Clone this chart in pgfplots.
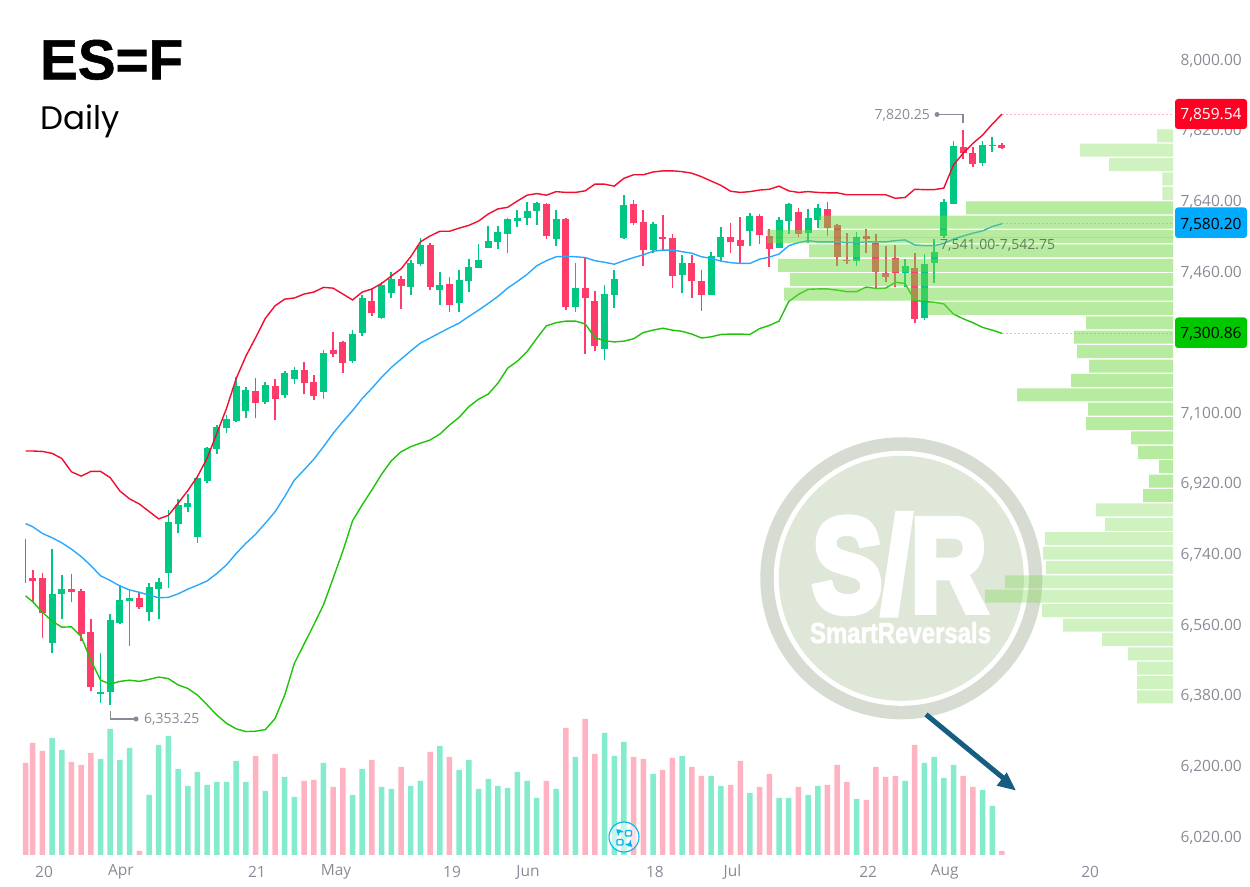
\documentclass[border=0pt]{standalone}
\usepackage{graphicx}
\usepackage{fontspec}
\usepackage{pgfplots}
\usepackage{pgfplotstable}
\pgfplotsset{compat=1.18}
\setmainfont{Open Sans}
\newfontfamily\titlefont{Poppins}
\newfontfamily\titleb[FakeBold=1]{Liberation Sans Bold}
\newfontfamily\wmfont[FakeBold=6]{Liberation Sans Bold}
\newfontfamily\wmsmall[FakeBold=2]{Liberation Sans Bold}
\definecolor{upc}{HTML}{00C781}
\definecolor{dnc}{HTML}{FF3B69}
\definecolor{upv}{HTML}{85EBCD}
\definecolor{dnv}{HTML}{FFB3C2}
\definecolor{bandr}{HTML}{F20D2E}
\definecolor{bandb}{HTML}{29A8FF}
\definecolor{bandg}{HTML}{1FC40A}
\definecolor{prof}{HTML}{6FD741}
\definecolor{ticktxt}{HTML}{8A8A96}
\definecolor{arrowc}{HTML}{155E82}
\definecolor{wmring}{HTML}{D6DCD2}
\definecolor{wmfill}{HTML}{DFE7D9}
\definecolor{tagr}{HTML}{FF0022}
\definecolor{tagb}{HTML}{00AAFF}
\definecolor{tagg}{HTML}{00C800}
\definecolor{poctxt}{HTML}{5F7F5A}
\definecolor{iconc}{HTML}{00B4F0}

% rising days: x open high low close
\pgfplotstableread{
x o h l c
2 6511.0 6751.3 6485.5 6636.7
3 6635.9 6684.3 6573.7 6649.4
7 6381.1 6485.5 6359.6 6386.9
8 6386.1 6585.7 6353.25 6570.4
9 6562.7 6658.8 6561.0 6620.6
10 6618.8 6648.6 6504.9 6627.2
12 6590.8 6663.9 6567.1 6653.7
13 6650.2 6677.4 6573.7 6667.2
14 6689.4 6850.7 6652.7 6819.4
15 6815.0 6878.0 6792.9 6863.5
16 6858.4 6891.5 6846.4 6867.8
17 6781.1 6935.6 6767.4 6931.5
18 6925.4 7012.0 6920.3 7008.0
19 7005.4 7067.3 6993.4 7062.2
20 7058.9 7092.1 7047.7 7081.9
21 7077.5 7189.7 7075.7 7166.7
22 7103.8 7163.4 7085.9 7155.8
24 7125.9 7176.9 7121.6 7168.5
26 7143.8 7204.2 7136.9 7199.1
27 7185.3 7214.4 7171.8 7208.3
30 7151.4 7257.7 7134.4 7250.1
33 7229.7 7308.7 7224.6 7299.2
34 7301.0 7397.9 7294.9 7391.0
36 7340.0 7432.5 7337.5 7424.1
37 7404.5 7458.0 7391.7 7438.6
39 7419.8 7487.8 7398.6 7480.2
40 7477.6 7543.9 7472.5 7526.8
42 7411.4 7458.0 7373.9 7424.1
44 7378.2 7462.3 7356.1 7436.8
45 7433.5 7490.4 7407.0 7470.7
46 7467.4 7528.6 7467.4 7487.8
47 7519.2 7574.5 7517.6 7536.2
48 7533.7 7574.5 7515.9 7558.4
49 7554.8 7594.1 7506.4 7591.5
50 7588.0 7615.2 7572.7 7594.1
51 7595.6 7635.6 7577.0 7612.7
52 7612.7 7635.6 7577.0 7633.1
54 7541.3 7615.2 7524.3 7591.5
56 7368.8 7480.9 7356.1 7416.5
59 7260.2 7423.3 7233.0 7401.2
60 7398.6 7463.1 7366.3 7439.4
61 7543.9 7653.5 7541.3 7628.0
64 7513.3 7585.4 7504.9 7578.8
67 7449.6 7500.6 7404.5 7480.9
70 7398.6 7509.0 7398.6 7498.0
71 7496.2 7572.7 7485.3 7545.7
74 7562.5 7608.4 7524.3 7600.7
77 7517.6 7598.2 7517.6 7589.8
78 7588.0 7633.8 7554.1 7631.3
80 7557.4 7617.8 7531.9 7594.8
81 7589.8 7630.5 7568.6 7620.3
85 7485.3 7559.2 7473.3 7546.4
90 7453.9 7490.4 7419.8 7471.8
92 7339.2 7503.1 7334.9 7477.6
93 7480.9 7542.1 7428.4 7507.4
94 7549.0 7642.5 7544.6 7635.6
95 7630.5 7790.3 7630.5 7778.3
98 7735.8 7791.1 7726.6 7780.9
99 7777.6 7802.0 7763.8 7780.1
}\upcandles

% falling days: x open high low close
\pgfplotstableread{
x o h l c
0 6676.7 6697.8 6617.0 6670.6
1 6678.2 6689.4 6525.3 6589.0
4 6649.4 6687.6 6617.0 6641.7
5 6644.3 6650.2 6517.7 6534.7
6 6539.0 6572.2 6389.4 6398.9
11 6625.7 6640.0 6598.4 6604.3
23 7154.0 7186.3 7085.9 7124.2
25 7166.0 7183.8 7080.8 7133.6
28 7207.5 7227.1 7147.1 7173.6
29 7176.2 7194.7 7131.8 7142.0
31 7258.5 7304.3 7241.4 7248.3
32 7279.6 7282.2 7200.6 7226.1
35 7383.3 7413.9 7345.9 7352.8
38 7438.6 7447.0 7363.7 7422.3
41 7526.0 7531.9 7410.6 7419.8
43 7425.9 7444.5 7356.1 7373.9
53 7631.3 7633.1 7541.3 7549.0
55 7593.1 7594.1 7360.4 7368.8
57 7416.5 7494.7 7249.0 7391.0
58 7383.3 7408.8 7255.9 7268.7
62 7629.8 7640.7 7577.0 7582.9
63 7584.7 7615.2 7472.5 7512.5
65 7546.4 7602.5 7513.3 7542.1
66 7544.6 7553.3 7416.5 7447.0
68 7480.2 7500.6 7391.0 7435.1
69 7434.3 7462.3 7358.6 7398.6
72 7546.4 7582.9 7505.7 7533.7
73 7539.5 7598.2 7479.4 7524.3
75 7600.7 7605.0 7529.4 7552.3
76 7549.0 7566.1 7469.2 7516.6
79 7610.9 7619.6 7547.2 7554.8
82 7618.6 7635.6 7549.0 7569.4
83 7576.2 7579.6 7473.3 7496.2
84 7487.8 7555.9 7477.6 7484.5
86 7549.0 7566.1 7504.9 7542.1
87 7531.9 7553.3 7415.7 7457.2
88 7453.9 7523.5 7432.5 7445.3
89 7492.9 7525.3 7419.8 7453.9
91 7467.4 7504.9 7326.5 7336.7
96 7775.0 7820.25 7745.2 7759.7
97 7759.7 7775.0 7725.6 7732.5
100 7781.6 7785.2 7771.5 7774.0
}\dncandles

% Bollinger bands: x upper middle lower
\pgfplotstableread{
x up mid low
-0.74 7001 6816 6632
0 7001 6808 6617
1 7000 6791 6590
2 6995 6780 6568
3 6982 6767 6552
4 6948 6751 6553
5 6937 6732 6528
6 6949 6709 6468
7 6949 6683 6417
8 6933 6671 6407
9 6899 6657 6414
10 6879 6647 6417
11 6866 6641 6414
12 6847 6634 6419
13 6828 6627 6425
14 6837 6628 6421
15 6868 6637 6405
16 6900 6649 6396
17 6936 6659 6379
18 6983 6670 6354
19 7046 6689 6328
20 7110 6711 6307
21 7186 6740 6293
22 7243 6766 6286
23 7290 6789 6287
24 7339 6817 6291
25 7371 6846 6319
26 7388 6885 6379
27 7391 6927 6460
28 7401 6953 6509
29 7406 6980 6558
30 7418 7012 6609
31 7416 7046 6677
32 7401 7076 6746
33 7386 7104 6823
34 7406 7135 6864
35 7414 7161 6902
36 7428 7189 6942
37 7447 7214 6976
38 7465 7235 6999
39 7496 7256 7012
40 7534 7276 7021
41 7549 7289 7029
42 7561 7302 7044
43 7561 7315 7067
44 7569 7327 7087
45 7576 7344 7114
46 7587 7360 7133
47 7605 7377 7146
48 7618 7395 7174
49 7622 7416 7212
50 7638 7433 7230
51 7653 7451 7254
52 7657 7473 7288
53 7653 7486 7320
54 7662 7496 7328
55 7660 7497 7332
56 7660 7496 7332
57 7664 7494 7325
58 7681 7486 7290
59 7681 7482 7282
60 7676 7477 7279
61 7696 7486 7281
62 7705 7494 7287
63 7705 7501 7303
64 7712 7510 7309
65 7715 7513 7314
66 7715 7513 7309
67 7713 7509 7306
68 7709 7505 7299
69 7700 7496 7289
70 7689 7492 7292
71 7678 7485 7298
72 7663 7481 7299
73 7660 7479 7299
74 7662 7479 7298
75 7666 7490 7313
76 7668 7495 7321
77 7676 7503 7332
78 7664 7524 7382
79 7660 7532 7400
80 7662 7537 7413
81 7660 7534 7414
82 7659 7534 7414
83 7659 7534 7411
84 7654 7532 7407
85 7654 7532 7407
86 7654 7534 7419
87 7654 7534 7415
88 7654 7534 7416
89 7645 7537 7431
90 7647 7539 7428
91 7668 7526 7385
92 7667 7524 7382
93 7667 7524 7380
94 7671 7530 7376
95 7730 7541 7350
96 7760 7549 7338
97 7785 7556 7328
98 7806 7562 7316
99 7834 7573 7309
100 7859.54 7580.20 7300.86
}\bands

% volume, rising days: x v
\pgfplotstableread{
x v
2 117
3 105
7 96
8 126
9 95
10 107
12 60
13 110
14 119
15 86
16 69
17 83
18 70
19 73
20 73
21 94
22 73
24 64
26 78
27 58
30 92
33 60
34 86
36 68
37 66
39 69
40 74
42 109
44 85
45 95
46 66
47 76
48 69
49 67
50 83
51 74
52 57
54 66
56 98
59 122
60 99
61 113
64 81
67 99
70 79
71 69
74 62
77 57
78 57
80 60
81 69
85 56
90 74
92 92
93 98
94 77
95 90
98 65
99 49
}\upvol

% volume, falling days: x v
\pgfplotstableread{
x v
-0.74 92
0 112
1 104
4 93
5 90
6 102
11 4
23 99
25 101
28 74
29 75
31 68
32 87
35 95
38 88
41 103
43 98
53 74
55 127
57 136
58 101
62 98
63 96
65 85
66 97
68 88
69 79
72 70
73 94
75 68
76 81
79 68
82 70
83 90
84 73
86 55
87 88
88 78
89 79
91 110
96 79
97 68
100 4
}\dnvol

% volume profile, outside the value area: v price
\pgfplotstableread{
v p
16 7804.3
93 7767.6
64 7731.0
10.7 7694.3
10.7 7657.6
77 6850.9
68 6814.2
128 6777.5
130 6740.9
127 6704.2
168 6667.5
188 6630.9
131 6594.2
110 6557.5
71 6520.9
45 6484.2
36 6447.5
36 6410.9
36 6374.2
}\proflight

% volume profile, value area: v price
\pgfplotstableread{
v p
207 7620.9
354 7584.3
406 7547.6
364 7510.9
395 7474.3
383 7437.6
389 7400.9
246 7364.3
87 7327.6
99 7290.9
96 7254.2
84 7217.6
102 7180.9
156 7144.2
85 7107.6
87 7070.9
42 7034.2
35 6997.6
14 6960.9
24 6924.2
30 6887.6
}\profdark

\newcommand{\lab}{\fontsize{15.5}{18}\selectfont}
\newcommand{\sm}{\fontsize{14}{16}\selectfont}

\begin{document}
\begin{tikzpicture}[x=1pt,y=1pt]
\useasboundingbox (0,0) rectangle (1250,886);

% ---------- price axis: candles and bands
\begin{axis}[
  at={(0,0)}, anchor=south west, scale only axis,
  width=1250pt, height=886pt,
  xmin=-3.3736, xmax=125.59, ymin=5892.5, ymax=8150.36,
  axis line style={draw=none}, major tick length=0pt, clip=true,
  xtick pos=bottom, ytick pos=right,
  xtick={1.17,9.11,23.14,31.29,43.26,51.1,64.2,72.2,86.2,94.1,109.1},
  xticklabels={20,Apr,21,May,19,Jun,18,Jul,22,Aug,20},
  ytick={8000,7820,7640,7460,7100,6920,6740,6560,6380,6200,6020},
  yticklabels={{8,000.00},{7,820.00},{7,640.00},{7,460.00},{7,100.00},{6,920.00},{6,740.00},{6,560.00},{6,380.00},{6,200.00},{6,020.00}},
  xticklabel style={anchor=center, yshift=14pt, font=\lab, text=ticktxt},
  yticklabel style={anchor=east, inner sep=0pt, xshift=-8pt, yshift=-1.5pt, font=\lab, text=ticktxt},
]
% the first candle, cut by the left edge of the plot
\addplot[dnc, line width=1.5pt, forget plot] coordinates {(-0.74,6776.8) (-0.74,6664.7)};
% wicks
\addplot[draw=none, mark=none, forget plot, error bars/.cd, y dir=both, y explicit, error mark=none,
  error bar style={line width=1.7pt, upc}]
  table[x=x, y=c, y error plus expr=\thisrow{h}-\thisrow{c}, y error minus expr=\thisrow{c}-\thisrow{l}] {\upcandles};
\addplot[draw=none, mark=none, forget plot, error bars/.cd, y dir=both, y explicit, error mark=none,
  error bar style={line width=1.7pt, dnc}]
  table[x=x, y=c, y error plus expr=\thisrow{h}-\thisrow{c}, y error minus expr=\thisrow{c}-\thisrow{l}] {\dncandles};
% bodies
\addplot[draw=none, mark=none, forget plot, error bars/.cd, y dir=minus, y explicit, error mark=none,
  error bar style={line width=7pt, upc}]
  table[x=x, y=c, y error minus expr=\thisrow{c}-\thisrow{o}] {\upcandles};
\addplot[draw=none, mark=none, forget plot, error bars/.cd, y dir=plus, y explicit, error mark=none,
  error bar style={line width=7pt, dnc}]
  table[x=x, y=c, y error plus expr=\thisrow{o}-\thisrow{c}] {\dncandles};
% bands
\addplot[bandr, line width=1.4pt, mark=none, forget plot] table[x=x, y=up] {\bands};
\addplot[bandb, line width=1.4pt, mark=none, forget plot] table[x=x, y=mid] {\bands};
\addplot[bandg, line width=1.4pt, mark=none, forget plot] table[x=x, y=low] {\bands};
% extensions to the price tags
\addplot[bandr, opacity=.3, line width=.8pt, dash pattern=on 2pt off 2pt, forget plot] coordinates {(100,7859.54) (117.6,7859.54)};
\addplot[bandb, opacity=.4, line width=.8pt, dash pattern=on 2pt off 2pt, forget plot] coordinates {(100,7580.20) (117.6,7580.20)};
\addplot[bandg, opacity=.4, line width=.8pt, dash pattern=on 2pt off 2pt, forget plot] coordinates {(100,7300.86) (117.6,7300.86)};
\end{axis}

% ---------- watermark
\begin{scope}[shift={(0,886)},y=-1pt]
  \fill[wmring] (901.3,578.3) circle (141);
  \fill[white] (901.3,578.3) circle (127.5);
  \fill[wmfill] (901.3,578.3) circle (122.5);
  \node[white, inner sep=0pt, anchor=base] at (899.5,611) {\raisebox{0pt}[96pt][0pt]{\resizebox{174pt}{96pt}{\wmfont S/R}}};
  \node[white, inner sep=0pt, anchor=base] at (900.5,643) {\raisebox{0pt}[21pt][0pt]{\resizebox{181pt}{21pt}{\wmsmall SmartReversals}}};
\end{scope}

% ---------- volume axis
\begin{axis}[
  at={(0,0)}, anchor=south west, scale only axis, hide axis,
  width=1250pt, height=886pt,
  xmin=-3.3736, xmax=125.59, ymin=-31, ymax=855,
]
\addplot[ybar, bar width=5.5pt, bar shift=0pt, fill=upv, draw=none, forget plot] table[x=x, y=v] {\upvol};
\addplot[ybar, bar width=5.5pt, bar shift=0pt, fill=dnv, draw=none, forget plot] table[x=x, y=v] {\dnvol};
\end{axis}

% ---------- volume profile axis
\begin{axis}[
  at={(0,0)}, anchor=south west, scale only axis, hide axis,
  width=1250pt, height=886pt,
  x dir=reverse, xmin=-77, xmax=1173,
  ymin=5892.5, ymax=8150.36,
]
\addplot[xbar, bar width=13pt, bar shift=0pt, fill=prof, fill opacity=.33, draw=none, forget plot] table[x=v, y=p] {\proflight};
\addplot[xbar, bar width=13pt, bar shift=0pt, fill=prof, fill opacity=.5, draw=none, forget plot] table[x=v, y=p] {\profdark};
\end{axis}

% ---------- labels, tags and annotations, in reference pixels
\begin{scope}[shift={(0,886)},y=-1pt]
  \node[anchor=base west, inner sep=0pt] at (40,79.3) {\titleb\fontsize{56.5}{57}\selectfont ES=F};
  \node[anchor=base west, inner sep=0pt] at (40,130) {\titlefont\fontsize{32.5}{33}\selectfont Daily};

  \fill[tagr, rounded corners=3pt] (1175,99) rectangle (1247,129);
  \node[white, inner sep=0pt] at (1211,115) {\lab 7,859.54};
  \fill[tagb, rounded corners=3pt] (1175,207.5) rectangle (1247,238);
  \node[black, inner sep=0pt] at (1211,224.5) {\lab 7,580.20};
  \fill[tagg, rounded corners=3pt] (1175,317.5) rectangle (1247,348);
  \node[black, inner sep=0pt] at (1211,334) {\lab 7,300.86};

  \draw[ticktxt, line width=1.1pt] (963,123) -- (963,114.5) -- (937,114.5);
  \fill[ticktxt] (937,114.5) circle (2.5);
  \node[anchor=east, inner sep=0pt, text=ticktxt] at (930,115.5) {\sm 7,820.25};

  \draw[ticktxt, line width=1.1pt] (110.5,711) -- (110.5,719) -- (136,719);
  \fill[ticktxt] (136,719) circle (2.5);
  \node[anchor=west, inner sep=0pt, text=ticktxt] at (144,719.5) {\sm 6,353.25};

  \fill[black, opacity=.06] (767,236.8) rectangle (1173,238.2);
  \node[anchor=west, inner sep=0pt, text=poctxt] at (940,245.5) {\sm 7,541.00-7,542.75};

  \draw[arrowc, line width=5pt] (926,714.5) -- (1005,779.5);
  \fill[arrowc] (1015.7,790.3) -- (1006.7,772.3) -- (996.7,785.7) -- cycle;

  \fill[white, opacity=.55] (624,837) circle (15);
  \draw[iconc, line width=1.1pt] (624,837) circle (15);
  \draw[iconc, line width=1.4pt, rounded corners=1pt] (625.5,830.5) rectangle (631.5,836);
  \draw[iconc, line width=1.4pt, rounded corners=1pt] (617,839.5) rectangle (623,845);
  \draw[iconc, line width=1.4pt, -latex] (623,831.5) -- (618.5,832) -- (618,836.5);
  \draw[iconc, line width=1.4pt, -latex] (625.5,844.5) -- (630,844) -- (630.5,839.5);
\end{scope}
\end{tikzpicture}
\end{document}
